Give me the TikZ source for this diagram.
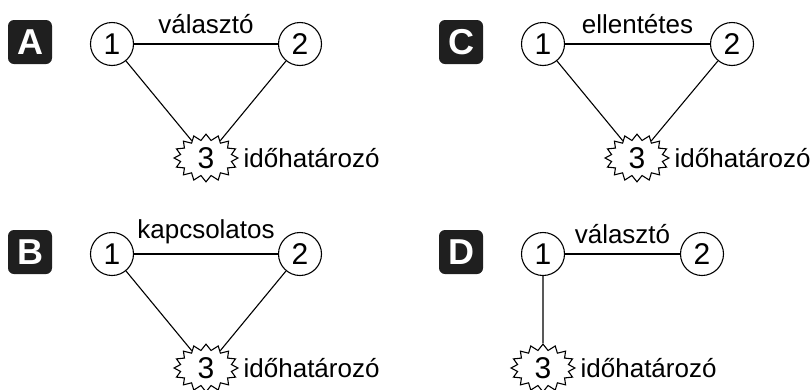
\documentclass[tikz,border=0pt]{standalone}
\usepackage{fontspec}
\setmainfont{Liberation Sans}
\usetikzlibrary{shapes.symbols,positioning}
\begin{document}
\begin{tikzpicture}[x=1pt, y=-1pt, line width=1.1pt,
		tag/.style={fill=black!88, rounded corners=6pt, minimum size=44pt, inner sep=0pt, text=white, font=\bfseries\fontsize{36}{36}\selectfont},
		circ/.style={draw, circle, minimum size=43pt, inner sep=0pt, font=\fontsize{30}{30}\selectfont},
		burst/.style={draw, fill=white, starburst, starburst points=16, starburst point height=6pt, random starburst=0, inner xsep=10pt, inner ysep=2pt, font=\fontsize{30}{30}\selectfont},
		lbl/.style={above=10pt, inner sep=0pt, font=\fontsize{26}{26}\selectfont},
		side/.style={inner sep=0pt, font=\fontsize{26}{26}\selectfont}]
	\useasboundingbox (0,0) rectangle (812,389);
	
	% A：三角形，1--2 választó
	\node[tag] (tagA) at (30,42) {A};
	\node[circ] (a1) at (112,44) {1};
	\node[circ] (a2) at (300,44) {2};
	\node[burst] (a3) at (206,158) {3};
	\node[side, right=4pt of a3] (a3t) {időhatározó};
	\draw (a1) -- (a2) node[lbl, midway] {választó};
	\draw (a1) -- (a3) -- (a2);
	
	% B：三角形，1--2 kapcsolatos
	\node[tag] (tagB) at (30,252) {B};
	\node[circ] (b1) at (112,254) {1};
	\node[circ] (b2) at (300,254) {2};
	\node[burst] (b3) at (206,368) {3};
	\node[side, right=4pt of b3] (b3t) {időhatározó};
	\draw (b1) -- (b2) node[lbl, midway] {kapcsolatos};
	\draw (b1) -- (b3) -- (b2);
	
	% C：三角形，1--2 ellentétes
	\node[tag] (tagC) at (461,42) {C};
	\node[circ] (c1) at (543,44) {1};
	\node[circ] (c2) at (732,44) {2};
	\node[burst] (c3) at (637,158) {3};
	\node[side, right=4pt of c3] (c3t) {időhatározó};
	\draw (c1) -- (c2) node[lbl, midway] {ellentétes};
	\draw (c1) -- (c3) -- (c2);
	
	% D：3 直接挂在 1 下面
	\node[tag] (tagD) at (461,252) {D};
	\node[circ] (d1) at (543,254) {1};
	\node[circ] (d2) at (702,254) {2};
	\node[burst] (d3) at (543,368) {3};
	\node[side, right=4pt of d3] (d3t) {időhatározó};
	\draw (d1) -- (d2) node[lbl, midway] {választó};
	\draw (d1) -- (d3);
\end{tikzpicture}
\end{document}
